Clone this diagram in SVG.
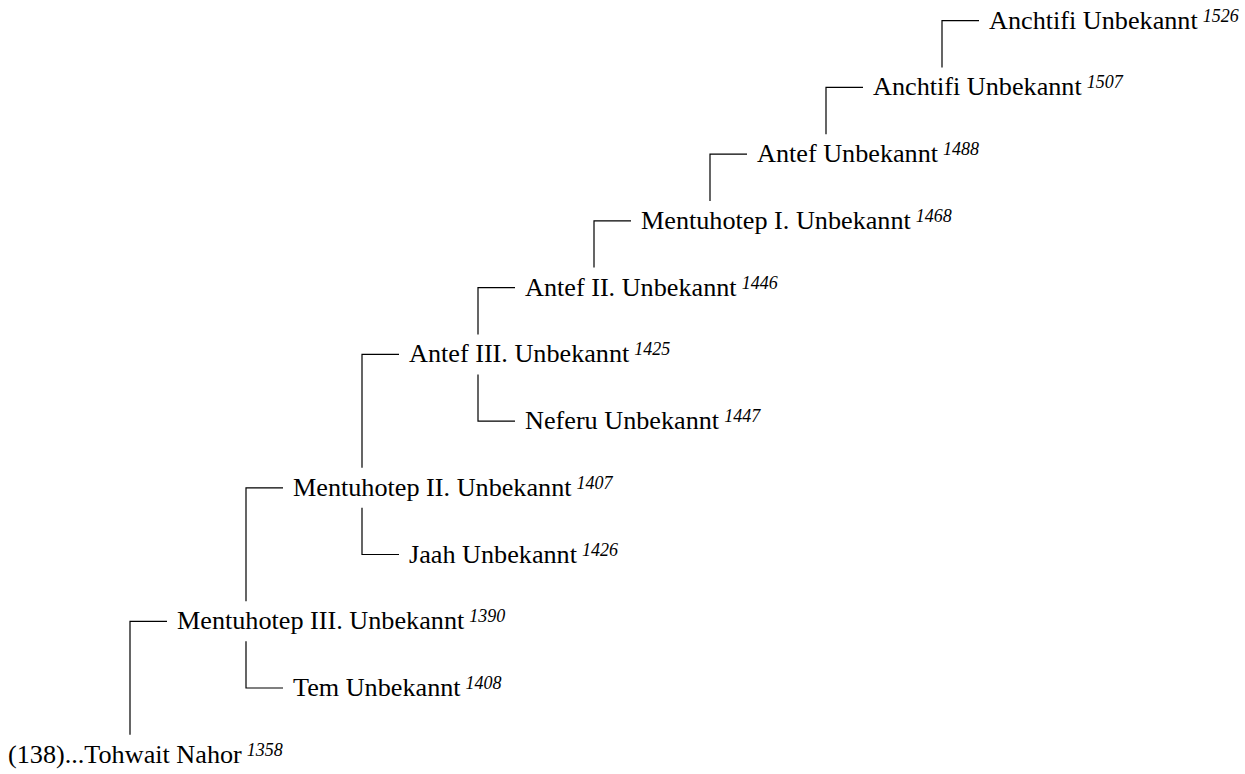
<svg xmlns="http://www.w3.org/2000/svg" width="1245" height="774" viewBox="0 0 1245 774">
<style>
.n{font-family:"Liberation Serif","Times New Roman",serif;font-size:26.2px;fill:#000}
.s{font-size:18px;font-style:italic}
.c{fill:none;stroke:#000;stroke-width:1.2}
</style>
<rect width="1245" height="774" fill="#fff"/>
<g id="connectors" class="c">
<path d="M130,734.7V621.3H167"/>
<path d="M246,601.3V487.8H283"/>
<path d="M246,641.3V688H283"/>
<path d="M362,467.8V354.4H399"/>
<path d="M362,507.8V554.5H399"/>
<path d="M478,334.4V287.6H515"/>
<path d="M478,374.4V421.1H515"/>
<path d="M594,267.6V220.9H631"/>
<path d="M710,200.9V154.2H747"/>
<path d="M826,134.2V87.4H863"/>
<path d="M942,67.4V20.7H979"/>
</g>
<g id="n1358"><text class="n" x="8" y="762.7">(138)...Tohwait Nahor<tspan class="s" dx="5" dy="-7">1358</tspan></text></g>
<g id="n1390"><text class="n" x="177" y="629.3">Mentuhotep III. Unbekannt<tspan class="s" dx="5" dy="-7">1390</tspan></text></g>
<g id="n1408"><text class="n" x="293" y="696">Tem Unbekannt<tspan class="s" dx="5" dy="-7">1408</tspan></text></g>
<g id="n1407"><text class="n" x="293" y="495.8">Mentuhotep II. Unbekannt<tspan class="s" dx="5" dy="-7">1407</tspan></text></g>
<g id="n1426"><text class="n" x="409" y="562.5">Jaah Unbekannt<tspan class="s" dx="5" dy="-7">1426</tspan></text></g>
<g id="n1425"><text class="n" x="409" y="362.4">Antef III. Unbekannt<tspan class="s" dx="5" dy="-7">1425</tspan></text></g>
<g id="n1447"><text class="n" x="525" y="429.1">Neferu Unbekannt<tspan class="s" dx="5" dy="-7">1447</tspan></text></g>
<g id="n1446"><text class="n" x="525" y="295.6">Antef II. Unbekannt<tspan class="s" dx="5" dy="-7">1446</tspan></text></g>
<g id="n1468"><text class="n" x="641" y="228.9">Mentuhotep I. Unbekannt<tspan class="s" dx="5" dy="-7">1468</tspan></text></g>
<g id="n1488"><text class="n" x="757" y="162.2">Antef Unbekannt<tspan class="s" dx="5" dy="-7">1488</tspan></text></g>
<g id="n1507"><text class="n" x="873" y="95.4">Anchtifi Unbekannt<tspan class="s" dx="5" dy="-7">1507</tspan></text></g>
<g id="n1526"><text class="n" x="989" y="28.7">Anchtifi Unbekannt<tspan class="s" dx="5" dy="-7">1526</tspan></text></g>
</svg>
